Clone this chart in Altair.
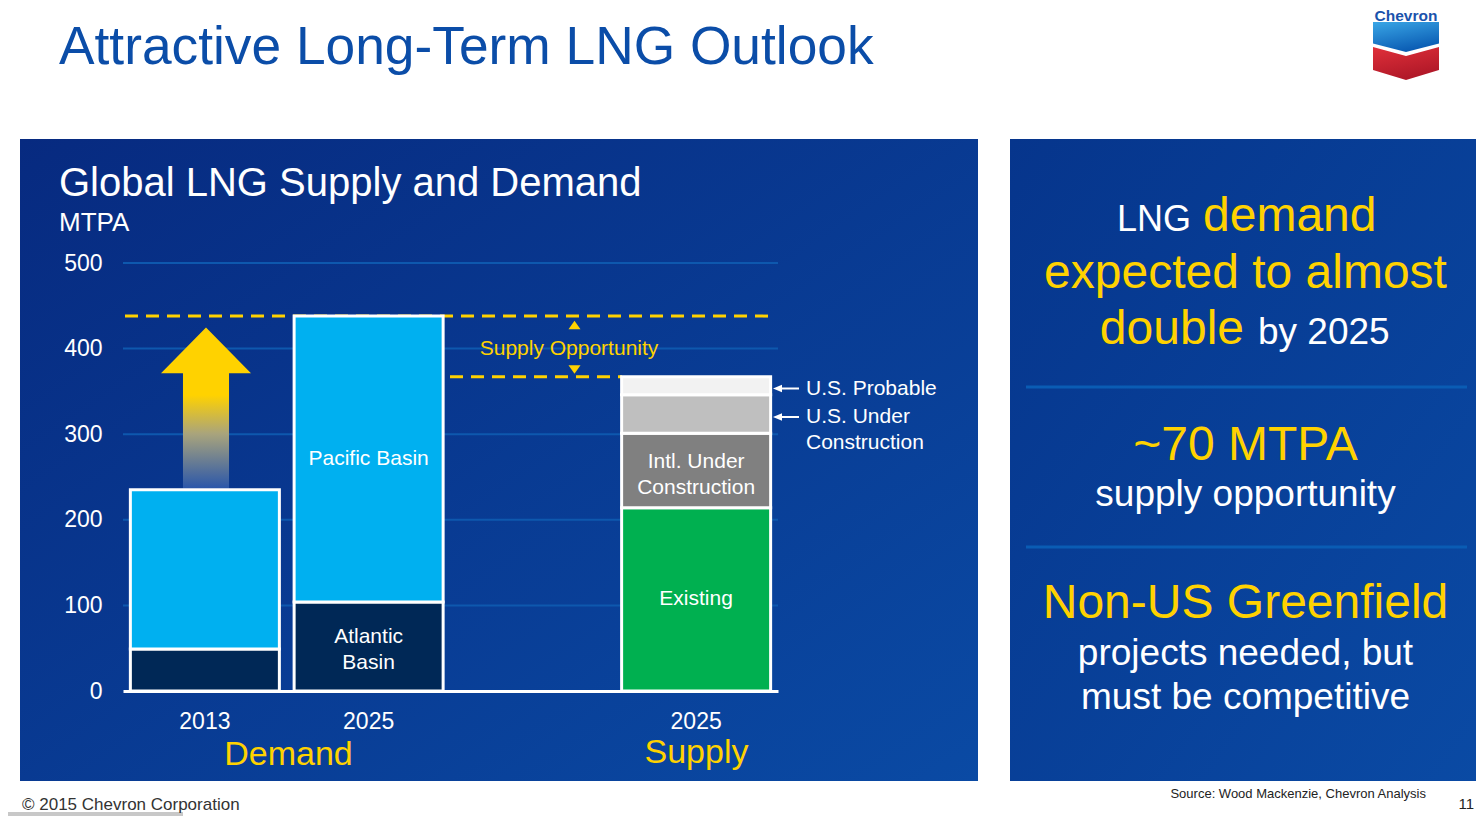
import altair as alt
import pandas as pd

# ---------------- data ----------------
categories = ["2013", "2025 Demand", "gap", "2025 Supply"]
demand_years = ["2013", "2025 Demand"]
atlantic_basin = [49, 104]
pacific_basin = [186, 334]
supply_segments = ["Existing", "Intl. Under Construction", "U.S. Under Construction", "U.S. Probable"]
supply_values = [214, 87, 45, 21]
y_ticks = [0, 100, 200, 300, 400, 500]

segment_names = ["Atlantic Basin", "Pacific Basin"] + supply_segments
segment_colors = ["#002856", "#00B0F0", "#00B050", "#808080", "#BFBFBF", "#F2F2F2"]

in_bar_labels = {
    ("2025 Demand", "Atlantic Basin"): "Atlantic\nBasin",
    ("2025 Demand", "Pacific Basin"): "Pacific Basin",
    ("2025 Supply", "Existing"): "Existing",
    ("2025 Supply", "Intl. Under Construction"): "Intl. Under\nConstruction",
}

FONT = "Liberation Sans"
NARROW = "Liberation Sans Narrow, Liberation Sans"
YELLOW = "#FFD200"
WHITE = "#FFFFFF"

# plot area in page pixels
X0, Y0 = 123, 263
PW, PH = 655, 428


def px(x):
    return x - X0


def py(y):
    return y - Y0


# ---------------- tables ----------------
rows = []
for cat, a, p in zip(demand_years, atlantic_basin, pacific_basin):
    rows.append(dict(cat=cat, segment="Atlantic Basin", value=a, ord=0))
    rows.append(dict(cat=cat, segment="Pacific Basin", value=p, ord=1))
for i, (s, v) in enumerate(zip(supply_segments, supply_values)):
    rows.append(dict(cat="2025 Supply", segment=s, value=v, ord=i))
bars_df = pd.DataFrame(rows)

lab_rows = []
for cat in categories:
    g = bars_df[bars_df.cat == cat].sort_values("ord")
    base = 0
    for _, r in g.iterrows():
        key = (cat, r.segment)
        if key in in_bar_labels:
            lab_rows.append(dict(cat=cat, value=base + r.value / 2, label=in_bar_labels[key]))
        base += r.value
labels_df = pd.DataFrame(lab_rows)
multi_df = labels_df[labels_df.label.str.contains("\n")]
single_df = labels_df[~labels_df.label.str.contains("\n")]

demand_total = atlantic_basin[1] + pacific_basin[1]
supply_total = sum(supply_values)

one = pd.DataFrame({"k": [0]})

xscale = alt.Scale(domain=categories, paddingInner=0.09, paddingOuter=0.045)
yscale = alt.Scale(domain=[0, 500], nice=False, zero=True)
xaxis = alt.Axis(
    title=None, labelAngle=0, ticks=False, grid=False, domainColor=WHITE, domainWidth=3,
    labelColor=WHITE, labelFontSize=23, labelFont=FONT, labelPadding=19, zindex=1,
    labelExpr="datum.value == 'gap' ? '' : slice(datum.value, 0, 4)",
)
yaxis = alt.Axis(
    title=None, values=y_ticks, ticks=False, grid=False, domain=False,
    labelColor=WHITE, labelFontSize=23, labelFont=FONT, labelPadding=21, zindex=1,
)


def X(field="cat:N"):
    return alt.X(field, scale=xscale, axis=xaxis)


def Y(field="value:Q", **kw):
    return alt.Y(field, scale=yscale, axis=yaxis, **kw)


def grad(c1, c2, x2=1, y2=1, stops=None):
    if stops is None:
        stops = [{"offset": 0, "color": c1}, {"offset": 1, "color": c2}]
    return {"gradient": "linear", "x1": 0, "y1": 0, "x2": x2, "y2": y2, "stops": stops}


def rect(x1, y1, x2, y2, fill):
    return alt.Chart(one).mark_rect(fill=fill, strokeWidth=0).encode(
        x=alt.value(px(x1)), x2=alt.value(px(x2)), y=alt.value(py(y1)), y2=alt.value(py(y2))
    )


def hline(x1, x2, y, color, width=2, dash=None):
    kw = dict(color=color, strokeWidth=width)
    if dash:
        kw["strokeDash"] = dash
    return alt.Chart(one).mark_rule(**kw).encode(
        x=alt.value(px(x1)), x2=alt.value(px(x2)), y=alt.value(py(y)), y2=alt.value(py(y))
    )


def txt(s, x, y, size, color, align="left", baseline="alphabetic", weight="normal", font=FONT):
    return alt.Chart(one).mark_text(
        text=s, fontSize=size, color=color, align=align, baseline=baseline,
        fontWeight=weight, font=font,
    ).encode(x=alt.value(px(x)), y=alt.value(py(y)))


def sym(path, x, y, size, fill):
    return alt.Chart(one).mark_point(
        shape=path, size=size, filled=True, fill=fill, strokeWidth=0, opacity=1
    ).encode(x=alt.value(px(x)), y=alt.value(py(y)))


layers = []

# panels
layers.append(rect(20, 139, 978, 781, grad("#072a80", "#0a4aa4")))
layers.append(rect(1010, 139, 1481, 781, grad("#06358c", "#0a4aa4")))
layers.append(rect(8, 812, 183, 816, "#C8C8C8"))

# grid lines (data-driven)
grid = alt.Chart(pd.DataFrame({"value": y_ticks[1:]})).mark_rule(
    color="#0E58AE", strokeWidth=2
).encode(y=Y(), x=alt.value(0), x2=alt.value(PW))
layers.append(grid)

# dashed demand / supply levels
layers.append(
    alt.Chart(pd.DataFrame({"value": [demand_total]})).mark_rule(
        color=YELLOW, strokeWidth=3, strokeDash=[13, 8]
    ).encode(y=Y(), x=alt.value(px(125)), x2=alt.value(px(768)))
)
layers.append(
    alt.Chart(pd.DataFrame({"value": [supply_total]})).mark_rule(
        color=YELLOW, strokeWidth=3, strokeDash=[13, 8]
    ).encode(y=Y(), x=alt.value(px(450)), x2=alt.value(px(622)))
)

# growth arrow
arrow_path = ("M0,-1 L0.559,-0.432 L0.286,-0.432 L0.286,1 L-0.286,1 "
              "L-0.286,-0.432 L-0.559,-0.432 Z")
arrow_fill = grad(None, None, x2=0, y2=1, stops=[
    {"offset": 0, "color": "#FFD200"},
    {"offset": 0.42, "color": "#FFD200"},
    {"offset": 0.66, "color": "#A9A47C"},
    {"offset": 1, "color": "#2A56AA"},
])
layers.append(sym(arrow_path, 206, 408, 161 * 161, arrow_fill))

# bars
bars = alt.Chart(bars_df).mark_bar(stroke=WHITE, strokeWidth=3).encode(
    x=X(),
    y=Y(stack="zero"),
    order=alt.Order("ord:Q"),
    color=alt.Color("segment:N", scale=alt.Scale(domain=segment_names, range=segment_colors), legend=None),
)
layers.append(bars)

layers.append(alt.Chart(single_df).mark_text(
    fontSize=21, font=FONT, color=WHITE, baseline="middle"
).encode(x=X(), y=Y(), text="label:N"))
layers.append(alt.Chart(multi_df).mark_text(
    fontSize=21, font=FONT, color=WHITE, lineBreak="\n", lineHeight=26, baseline="middle", dy=-9
).encode(x=X(), y=Y(), text="label:N"))

# supply opportunity annotation
tri_up = "M0,-0.7 L1,0.7 L-1,0.7 Z"
tri_down = "M0,0.7 L1,-0.7 L-1,-0.7 Z"
layers.append(sym(tri_up, 574.5, 325, 144, YELLOW))
layers.append(sym(tri_down, 574.5, 369.5, 144, YELLOW))
layers.append(txt("Supply Opportunity", 569, 349, 21, YELLOW, align="center", baseline="middle"))

# side annotations
tri_left = "M-1,0 L0.8,-0.75 L0.8,0.75 Z"
for yy in (388.5, 417):
    layers.append(hline(779, 799, yy, WHITE, width=2))
    layers.append(sym(tri_left, 778, yy, 100, WHITE))
layers.append(txt("U.S. Probable", 806, 388.5, 21, WHITE, baseline="middle"))
layers.append(txt("U.S. Under", 806, 417, 21, WHITE, baseline="middle"))
layers.append(txt("Construction", 806, 443, 21, WHITE, baseline="middle"))

# category group titles
layers.append(txt("Demand", 288.5, 765, 34, YELLOW, align="center"))
layers.append(txt("Supply", 696.5, 763, 34, YELLOW, align="center"))

# chart titles
layers.append(txt("Global LNG Supply and Demand", 59, 196, 40, WHITE))
layers.append(txt("MTPA", 59, 231, 26, WHITE))

# slide title
layers.append(txt("Attractive Long-Term LNG Outlook", 59, 64, 53.3, "#0B4DA8"))

# Chevron logo
blue_path = "M-1,-0.879 L1,-0.879 L1,-0.227 L0,0.03 L-1,-0.227 Z"
red_path = "M-1,-0.121 L0,0.152 L1,-0.121 L1,0.576 L0,0.879 L-1,0.576 Z"
layers.append(sym(blue_path, 1406, 51, 66 * 66, grad("#3AA6E6", "#0B5DB4", x2=0.4, y2=1)))
layers.append(sym(red_path, 1406, 51, 66 * 66, grad("#E0303A", "#B01828", x2=0.4, y2=1)))
layers.append(txt("Chevron", 1406, 20.5, 15.5, "#1A52AC", align="center", weight="bold"))

# right panel text
layers.append(txt("LNG", 1191, 231, 36, WHITE, align="right"))
layers.append(txt("demand", 1203, 231, 48, YELLOW))
layers.append(txt("expected to almost", 1245.5, 288, 48, YELLOW, align="center"))
layers.append(txt("double", 1244, 344, 48, YELLOW, align="right"))
layers.append(txt("by 2025", 1258, 344, 37, WHITE))
layers.append(hline(1026, 1467, 387, "#0A5CB4", width=3))
layers.append(txt("~70 MTPA", 1245.5, 460, 48, YELLOW, align="center"))
layers.append(txt("supply opportunity", 1245.5, 506, 37, WHITE, align="center"))
layers.append(hline(1026, 1467, 547, "#0A5CB4", width=3))
layers.append(txt("Non-US Greenfield", 1245.5, 618, 48, YELLOW, align="center"))
layers.append(txt("projects needed, but", 1245.5, 665, 37, WHITE, align="center"))
layers.append(txt("must be competitive", 1245.5, 709, 37, WHITE, align="center"))

# footer
layers.append(txt("© 2015 Chevron Corporation", 22, 810, 17, "#333333"))
layers.append(txt("Source: Wood Mackenzie, Chevron Analysis", 1426, 798, 13, "#222222", align="right", font=NARROW))
layers.append(txt("11", 1474, 809, 15, "#222222", align="right", font=NARROW))

chart = alt.layer(*layers).properties(
    width=PW,
    height=PH,
    autosize=alt.AutoSizeParams(type="none"),
    padding={"left": X0 - 8, "top": Y0 - 8, "right": 1476 - (X0 + PW), "bottom": 816 - (Y0 + PH)},
    background="white",
).configure_view(stroke=None, fill=None)

chart.save("out.html", embed_options={"renderer": "svg", "actions": False})
